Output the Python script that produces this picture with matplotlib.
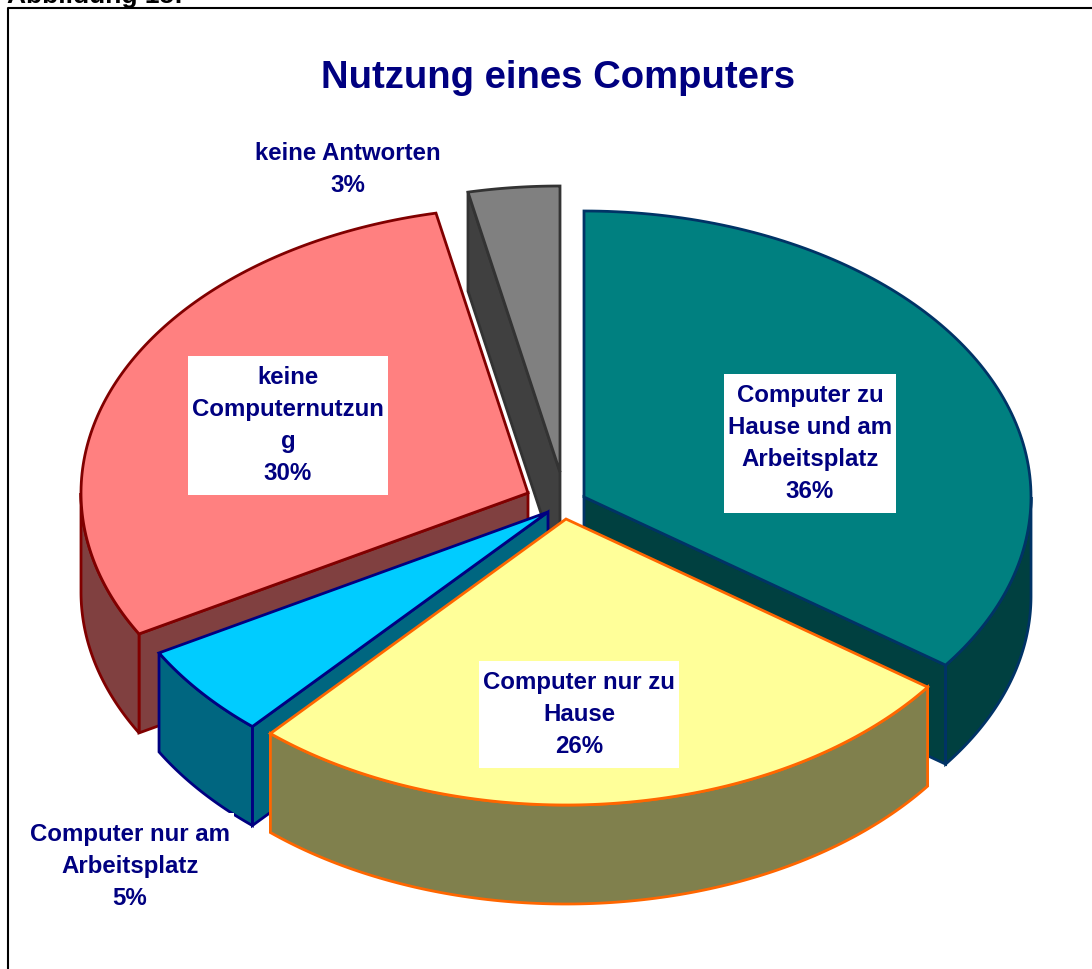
import numpy as np
import matplotlib
matplotlib.use('Agg')
import matplotlib.pyplot as plt
from matplotlib.patches import Rectangle

plt.rcParams['font.family'] = ['Liberation Sans', 'DejaVu Sans']

TITLE = 'Nutzung eines Computers'
HEADER = 'Abbildung 15:'

# clockwise from the top, same order as in the chart
names = ['Computer zu\nHause und am\nArbeitsplatz', 'Computer nur zu\nHause',
         'Computer nur am\nArbeitsplatz', 'keine\nComputernutzun\ng', 'keine Antworten']
printed_pct = [36, 26, 5, 30, 3]
# share of the ellipse each slice really covers in the picture
drawn_share = [35.0, 26.5, 5.3, 29.9, 3.3]

top_colors = ['#008080', '#FFFF99', '#00CCFF', '#FF8080', '#808080']
side_colors = ['#004040', '#80804D', '#006680', '#804040', '#404040']
edge_colors = ['#003366', '#FF6600', '#000080', '#800000', '#333333']

# layout in pixels
RX, RY, DEPTH = 447, 286, 99
apex = [(584, 498), (566, 520), (548, 513), (528, 494), (560, 473)]
label_pos = [(810, 444), (579, 715), (130, 867), (288, 426), (348, 170)]
draw_order = [4, 3, 0, 2, 1]
NAVY = '#000080'


def rim(cx, cy, t1, t2):
    t = np.radians(np.linspace(t1, t2, 120))
    return cx + RX * np.sin(t), cy - RY * np.cos(t)


def wall(ax, xs, ys, face, edge):
    # extrude a top outline downwards
    px = np.concatenate([xs, xs[::-1]])
    py = np.concatenate([ys, ys[::-1] + DEPTH])
    ax.fill(px, py, facecolor=face, edgecolor=edge, linewidth=2)


fig = plt.figure(figsize=(10.92, 9.70), dpi=100)
ax = fig.add_axes([0, 0, 1, 1])
ax.set_xlim(0, 1092)
ax.set_ylim(970, 0)
ax.axis('off')

stops = np.concatenate([[0], np.cumsum(drawn_share)]) * 3.6

for i in draw_order:
    cx, cy = apex[i]
    t1, t2 = stops[i], stops[i + 1]
    face, edge = side_colors[i], edge_colors[i]

    # cut faces, only the ones turned towards the viewer
    for t, visible in ((t1, np.sin(np.radians(t1)) < 0), (t2, np.sin(np.radians(t2)) > 0)):
        if visible:
            ex, ey = rim(cx, cy, t, t)
            wall(ax, np.array([cx, ex[0]]), np.array([cy, ey[0]]), face, edge)

    # outer wall, front half of the ellipse only
    a, b = max(t1, 90), min(t2, 270)
    if a < b:
        ex, ey = rim(cx, cy, a, b)
        wall(ax, ex, ey, face, edge)

    ex, ey = rim(cx, cy, t1, t2)
    ax.fill(np.concatenate([[cx], ex]), np.concatenate([[cy], ey]),
            facecolor=top_colors[i], edgecolor=edge, linewidth=2)

renderer = fig.canvas.get_renderer()
for name, pct, (x, y) in zip(names, printed_pct, label_pos):
    txt = ax.text(x, y, f'{name}\n{pct}%', ha='center', va='center', color=NAVY,
                  fontsize=17.3, fontweight='bold', linespacing=1.5, zorder=5)
    # white box is taller than a text bbox pad would give
    box = txt.get_window_extent(renderer)
    ax.add_patch(Rectangle((x - box.width / 2 - 4, y - box.height / 2 - 10),
                           box.width + 8, box.height + 20,
                           facecolor='white', edgecolor='none', zorder=4))

ax.text(558, 78, TITLE, ha='center', va='center', color=NAVY,
        fontsize=27.5, fontweight='bold', zorder=5)

# page frame and the cut off caption above it
ax.plot([8, 8, 1092], [970, 8.5, 8.5], color='black', linewidth=1.5, zorder=6)
ax.text(7, 3, HEADER, ha='left', va='baseline', color='black',
        fontsize=19, fontweight='bold', zorder=6)

fig.savefig('out.png', dpi=100)
